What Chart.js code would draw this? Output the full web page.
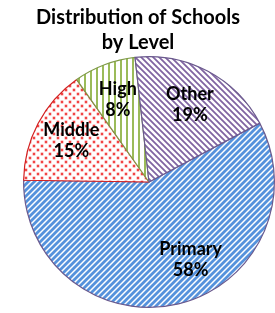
<!DOCTYPE html>
<html>
<head>
<meta charset="utf-8">
<script src="https://cdn.jsdelivr.net/npm/chart.js@4.4.1/dist/chart.umd.min.js"></script>
<style>
  html, body { margin: 0; padding: 0; background: #fff; overflow: hidden; }
  #wrap { position: relative; width: 298px; height: 313px; }
</style>
</head>
<body>
<div id="wrap"><canvas id="schoolsChart"></canvas></div>
<script>
// Dados do gráfico
const categories = ['Primary', 'Middle', 'High', 'Other'];
const shares = [58, 15, 8, 19];
const titleLines = ['Distribution of Schools', 'by Level'];

// Cria um padrão (hachura) num canvas auxiliar
function makePattern(size, drawFn) {
    const c = document.createElement('canvas');
    c.width = size;
    c.height = size;
    const p = c.getContext('2d');
    p.fillStyle = '#ffffff';
    p.fillRect(0, 0, size, size);
    drawFn(p, size);
    return p.createPattern(c, 'repeat');
}

// Listras diagonais "/" azuis
const primaryFill = makePattern(6, (p, s) => {
    p.strokeStyle = '#5592dc';
    p.lineWidth = 2.8;
    p.beginPath();
    p.moveTo(0, s); p.lineTo(s, 0);
    p.moveTo(-s / 2, s / 2); p.lineTo(s / 2, -s / 2);
    p.moveTo(s / 2, s * 1.5); p.lineTo(s * 1.5, s / 2);
    p.stroke();
});

// Pontos vermelhos
const middleFill = makePattern(8, (p, s) => {
    p.fillStyle = 'rgba(240, 60, 60, 0.35)';
    [[2, 2], [6, 6]].forEach(([x, y]) => {
        p.beginPath(); p.arc(x, y, 1.9, 0, Math.PI * 2); p.fill();
    });
    p.fillStyle = '#ee1c1c';
    [[2, 2], [6, 6]].forEach(([x, y]) => {
        p.beginPath(); p.arc(x, y, 1.0, 0, Math.PI * 2); p.fill();
    });
});

// Listras verticais verdes
const highFill = makePattern(6, (p, s) => {
    p.fillStyle = '#9bbb59';
    p.fillRect(0, 0, 2, s);
});

// Listras diagonais "\" roxas
const otherFill = makePattern(6, (p, s) => {
    p.strokeStyle = '#8064a2';
    p.lineWidth = 1.8;
    p.beginPath();
    p.moveTo(0, 0); p.lineTo(s, s);
    p.moveTo(-s / 2, s / 2); p.lineTo(s / 2, s * 1.5);
    p.moveTo(s / 2, -s / 2); p.lineTo(s * 1.5, s / 2);
    p.stroke();
});

// Plugin para o título em duas linhas
const titlePlugin = {
    id: 'twoLineTitle',
    afterDraw(chart, args, opts) {
        const ctx = chart.ctx;
        ctx.save();
        ctx.font = 'bold 20px Lato';
        ctx.fillStyle = '#000';
        ctx.textAlign = 'center';
        ctx.textBaseline = 'alphabetic';
        titleLines.forEach((line, i) => {
            ctx.fillText(line, opts.x, opts.y + i * opts.lineHeight);
        });
        ctx.restore();
    }
};

// Plugin para os rótulos de categoria e percentagem
const sliceLabels = {
    id: 'sliceLabels',
    afterDatasetsDraw(chart, args, opts) {
        const ctx = chart.ctx;
        const meta = chart.getDatasetMeta(0);
        const total = shares.reduce((a, b) => a + b, 0);
        ctx.save();
        ctx.font = 'bold 18px Lato';
        ctx.fillStyle = '#000';
        ctx.textAlign = 'center';
        ctx.textBaseline = 'middle';
        meta.data.forEach((arc, i) => {
            const { x, y, startAngle, endAngle, outerRadius } = arc.getProps(['x', 'y', 'startAngle', 'endAngle', 'outerRadius'], true);
            const mid = (startAngle + endAngle) / 2;
            const r = outerRadius * opts.radius;
            const shift = opts.shift[i] || [0, 0];
            const cx = x + Math.cos(mid) * r + shift[0];
            const cy = y + Math.sin(mid) * r + shift[1];
            const pct = Math.round(shares[i] / total * 100) + '%';
            ctx.fillText(categories[i], cx, cy - opts.lineHeight / 2);
            ctx.fillText(pct, cx, cy + opts.lineHeight / 2);
        });
        ctx.restore();
    }
};

const ctx = document.getElementById('schoolsChart').getContext('2d');
new Chart(ctx, {
    type: 'pie',
    data: {
        labels: categories,
        datasets: [{
            data: shares,
            backgroundColor: [primaryFill, middleFill, highFill, otherFill],
            borderColor: ['#6b5a8e', '#d21f1f', '#7f9a48', '#6b5a8e'],
            borderWidth: 1.2
        }]
    },
    options: {
        responsive: true,
        maintainAspectRatio: false,
        rotation: 62,
        animation: false,
        events: [],
        layout: { padding: { top: 56, bottom: 5, left: 0, right: 0 } },
        plugins: {
            legend: { display: false },
            tooltip: { enabled: false },
            title: { display: false },
            twoLineTitle: { x: 138, y: 24, lineHeight: 25 },
            sliceLabels: {
                radius: 0.7,
                lineHeight: 21,
                shift: [[21, -8], [0, 0], [0, 0], [0, 0]]
            }
        }
    },
    plugins: [titlePlugin, sliceLabels]
});
</script>
</body>
</html>
